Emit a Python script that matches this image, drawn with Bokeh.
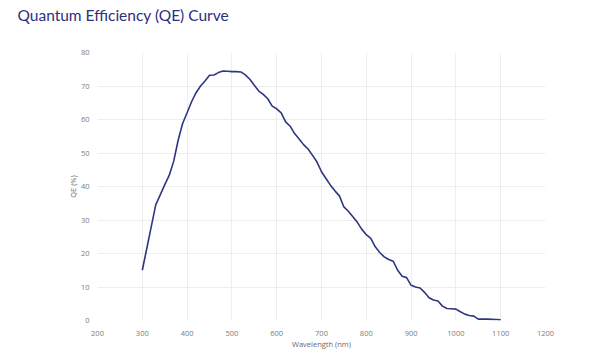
from bokeh.plotting import figure
from bokeh.models import Range1d, FixedTicker, Title
from bokeh.embed import file_html
from bokeh.resources import INLINE

wavelength = [300, 310, 320, 330, 340, 350, 360, 370, 380, 390,
              400, 410, 420, 430, 440, 450, 460, 470, 480, 490,
              500, 510, 520, 530, 540, 550, 560, 570, 580, 590,
              600, 610, 620, 630, 640, 650, 660, 670, 680, 690,
              700, 710, 720, 730, 740, 750, 760, 770, 780, 790,
              800, 810, 820, 830, 840, 850, 860, 870, 880, 890,
              900, 910, 920, 930, 940, 950, 960, 970, 980, 990,
              1000, 1010, 1020, 1030, 1040, 1050, 1060, 1070, 1080, 1090, 1100]
qe = [15.0, 21.5, 28.0, 34.5, 37.5, 40.5, 43.3, 47.5, 53.8, 58.8,
      62.0, 65.3, 68.0, 70.0, 71.5, 73.2, 73.3, 74.0, 74.5, 74.4,
      74.3, 74.3, 74.2, 73.3, 72.0, 70.2, 68.5, 67.5, 66.2, 64.0,
      63.2, 62.0, 59.3, 58.0, 55.8, 54.2, 52.5, 51.2, 49.3, 47.3,
      44.4, 42.4, 40.4, 38.7, 37.2, 33.9, 32.6, 31.0, 29.3, 27.2,
      25.6, 24.5, 22.0, 20.3, 19.0, 18.2, 17.7, 15.0, 13.2, 12.8,
      10.5, 10.0, 9.7, 8.4, 6.8, 6.1, 5.8, 4.3, 3.6, 3.5,
      3.4, 2.6, 1.9, 1.5, 1.3, 0.4, 0.4, 0.4, 0.35, 0.3, 0.2]

x_ticks = [200, 300, 400, 500, 600, 700, 800, 900, 1000, 1100, 1200]
y_ticks = [0, 10, 20, 30, 40, 50, 60, 70, 80]

title_text = "Quantum Efficiency (QE) Curve"
x_label = "Wavelength (nm)"
y_label = "QE (%)"

p = figure(width=600, height=354, output_backend="svg", toolbar_location=None,
           x_range=Range1d(200, 1200), y_range=Range1d(0, 80),
           min_border_left=97, min_border_right=55, min_border_top=52, min_border_bottom=34)
p.background_fill_color = "white"
p.border_fill_color = "white"
p.outline_line_color = None

p.title.text = title_text
p.title.text_font = "Lato"
p.title.text_font_size = "15.5px"
p.title.text_font_style = "normal"
p.title.text_color = "#2b3080"
p.title.align = "left"
p.title.offset = -80
p.title.standoff = 2

spacer = Title(text=" ", text_font_size="2px", standoff=24)
p.add_layout(spacer, "above")

p.line(wavelength, qe, line_color="#2e3581", line_width=1.6)

for ax in (p.xaxis[0], p.yaxis[0]):
    ax.axis_line_color = None
    ax.major_tick_line_color = None
    ax.minor_tick_line_color = None
    ax.major_label_text_font = "Open Sans"
    ax.major_label_text_font_size = "7.5px"
    ax.major_label_text_color = "#7a7a7a"
    ax.axis_label_text_font = "Open Sans"
    ax.axis_label_text_font_size = "7.5px"
    ax.axis_label_text_color = "#6a6a6a"
    ax.axis_label_text_font_style = "normal"

p.xaxis.ticker = FixedTicker(ticks=x_ticks)
p.yaxis.ticker = FixedTicker(ticks=y_ticks)
p.xaxis.axis_label = x_label
p.yaxis.axis_label = y_label
p.xaxis.major_label_standoff = 4
p.yaxis.major_label_standoff = 2
p.xaxis.axis_label_standoff = 0
p.yaxis.axis_label_standoff = 0

p.xgrid.ticker = FixedTicker(ticks=x_ticks)
p.ygrid.ticker = FixedTicker(ticks=y_ticks)
p.grid.grid_line_color = "#eeeeee"
p.grid.grid_line_width = 1

open("out.html", "w").write(file_html(p, INLINE))
